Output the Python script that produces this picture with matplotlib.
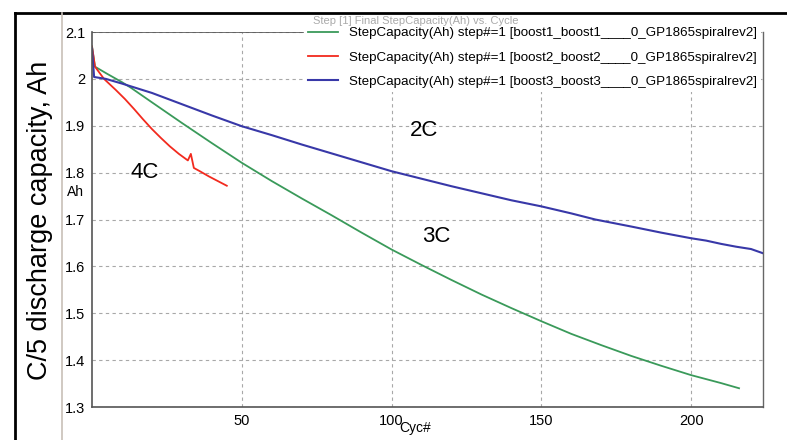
import numpy as np
import matplotlib.pyplot as plt
from matplotlib.lines import Line2D

plt.rcParams['font.family'] = ['Liberation Sans', 'DejaVu Sans']

# 3C (green)
cyc_3c = [0, 1, 5, 10, 13, 20, 30, 40, 50, 60, 70, 80, 90, 100, 110, 120,
          130, 140, 150, 160, 170, 180, 190, 200, 210, 216]
cap_3c = [2.069, 2.026, 2.011, 1.993, 1.981, 1.95, 1.906, 1.863, 1.821,
          1.782, 1.745, 1.709, 1.672, 1.636, 1.603, 1.571, 1.540, 1.511,
          1.483, 1.456, 1.432, 1.409, 1.388, 1.368, 1.351, 1.340]

# 4C (red)
cyc_4c = [0, 1, 4, 8, 11, 14, 17, 20, 23, 26, 29, 32, 33, 34, 36, 39, 42, 45]
cap_4c = [2.069, 2.026, 2.000, 1.976, 1.957, 1.936, 1.914, 1.893, 1.874,
          1.856, 1.84, 1.826, 1.84, 1.81, 1.803, 1.792, 1.782, 1.772]

# 2C (blue)
cyc_2c = [0, 0.7, 4.6, 10, 20, 25, 30, 40, 50, 60, 70, 80, 90, 100, 110,
          120, 130, 140, 150, 160, 168, 180, 190, 200, 205, 210, 215, 220, 224]
cap_2c = [2.065, 2.004, 2.0, 1.99, 1.97, 1.958, 1.946, 1.922, 1.899, 1.880,
          1.860, 1.841, 1.822, 1.803, 1.787, 1.771, 1.756, 1.741, 1.728,
          1.713, 1.70, 1.685, 1.672, 1.660, 1.655, 1.648, 1.642, 1.637, 1.628]

labels = ["StepCapacity(Ah) step#=1 [boost1_boost1____0_GP1865spiralrev2]",
          "StepCapacity(Ah) step#=1 [boost2_boost2____0_GP1865spiralrev2]",
          "StepCapacity(Ah) step#=1 [boost3_boost3____0_GP1865spiralrev2]"]

W, H = 787, 440
fig = plt.figure(figsize=(W/100, H/100), dpi=100)
ax = fig.add_axes([92/W, 1-407/H, 671/W, 375/H])

ax.plot(cyc_3c, cap_3c, color='#3a9a5a', lw=1.3, label=labels[0])
ax.plot(cyc_4c, cap_4c, color='#f22a1e', lw=1.3, label=labels[1])
ax.plot(cyc_2c, cap_2c, color='#3838a8', lw=1.5, label=labels[2])

ax.set_xlim(0, 224)
ax.set_ylim(1.3, 2.1)
ax.set_xticks([50, 100, 150, 200])
ax.set_yticks([1.3, 1.4, 1.5, 1.6, 1.7, 1.8, 1.9, 2.0, 2.1])
ax.set_yticklabels(['1.3', '1.4', '1.5', '1.6', '1.7', '1.8', '1.9', '2', '2.1'])
ax.tick_params(length=0, labelsize=10.5, pad=5)
ax.grid(True, color='#a8a8a8', lw=0.8, ls=(0, (3, 3)))
ax.set_axisbelow(True)

for s in ['left', 'bottom']:
    ax.spines[s].set_color('#555555')
    ax.spines[s].set_linewidth(1.2)
ax.spines['right'].set_color('#666666')
ax.spines['right'].set_linewidth(1.0)
ax.spines['top'].set_visible(False)
ax.axhline(2.1, xmax=0.315, color='#555555', lw=1.2)

ax.text(17.7, 1.80, '4C', fontsize=16, ha='center', va='center')
ax.text(115, 1.664, '3C', fontsize=16, ha='center', va='center')
ax.text(110.7, 1.889, '2C', fontsize=16, ha='center', va='center')

fig.text(416/W, 1-21/H, 'Step [1] Final StepCapacity(Ah) vs. Cycle',
         fontsize=8, color='#aaaaaa', ha='center', va='center')

leg = ax.legend(loc='upper right', bbox_to_anchor=(761/W, 1-23/H),
                bbox_transform=fig.transFigure, fontsize=9.6,
                frameon=True, fancybox=False, edgecolor='none',
                facecolor='white', framealpha=1, borderaxespad=0,
                handlelength=2.2, handletextpad=0.85, labelspacing=0.9,
                borderpad=0.3)
leg.set_zorder(5)

fig.text(40/W, 1-220/H, 'C/5 discharge capacity, Ah', fontsize=19.5,
         rotation=90, ha='center', va='center')
fig.text(75/W, 1-192/H, 'Ah', fontsize=10, ha='center', va='center')
fig.text(415/W, 1-428/H, 'Cyc#', fontsize=10, ha='center', va='center')

# screenshot frame
fig.add_artist(Line2D([15/W, 15/W], [0, 1-13/H], color='black', lw=2))
fig.add_artist(Line2D([15/W, 1], [1-13/H, 1-13/H], color='black', lw=2))
fig.add_artist(Line2D([62/W, 62/W], [0, 1-13/H], color='#c8c0b8', lw=1.2))

fig.savefig('out.png', dpi=100)
